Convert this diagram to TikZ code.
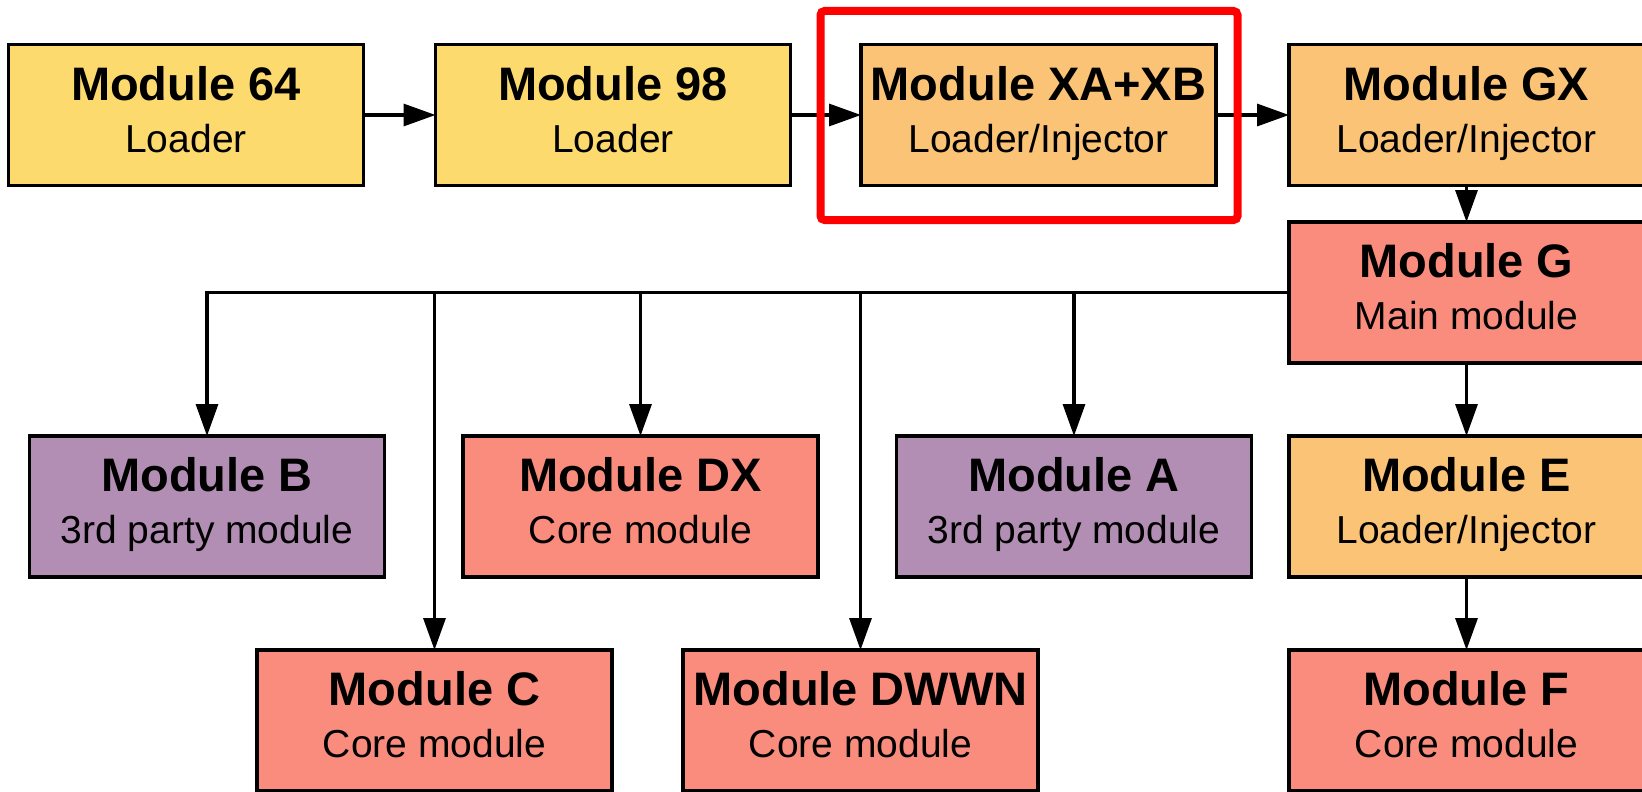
\documentclass[tikz,border=0pt]{standalone}
\usepackage{fontspec}
\setmainfont{Liberation Sans}
\usetikzlibrary{arrows.meta}
\definecolor{cYellow}{HTML}{FDDA6E}
\definecolor{cOrange}{HTML}{FBC375}
\definecolor{cSalmon}{HTML}{F98C7C}
\definecolor{cPurple}{HTML}{B38EB4}
\definecolor{cRed}{HTML}{FF0000}
\tikzset{
 modbox/.style={draw=black, line width=3.5pt, minimum width=355pt, minimum height=141pt, inner sep=0pt, outer sep=0pt},
 ttl/.style={anchor=base, font=\fontsize{47}{50}\selectfont\bfseries, inner sep=0pt},
 subt/.style={anchor=base, font=\fontsize{39}{44}\selectfont, inner sep=0pt},
 conn/.style={line width=3.3pt, line join=miter, -{Triangle[length=32pt,width=22pt]}},
 hilite/.style={draw=cRed, line width=8pt, rounded corners=4pt, minimum width=417pt, minimum height=209pt, inner sep=0pt, outer sep=0pt},
}
\newcommand\modnode[6]{%
 \node[modbox, fill=#4] (#1) at (#2,#3) {};
 \node[ttl] (#1-t) at ([yshift=15pt]#1.center) {#5};
 \node[subt] (#1-s) at ([yshift=-37pt]#1.center) {#6};
}
\begin{document}
\begin{tikzpicture}[x=1pt,y=-1pt]
\clip (0,0) rectangle (1642,792);
\fill[white] (0,0) rectangle (1642,792);
% row 1
\modnode{m64}{186}{115}{cYellow}{Module 64}{Loader}
\modnode{m98}{613}{115}{cYellow}{Module 98}{Loader}
\modnode{xab}{1038.5}{115}{cOrange}{Module XA+XB}{Loader/Injector}
\modnode{gx}{1466.5}{115}{cOrange}{Module GX}{Loader/Injector}
% G
\modnode{g}{1466.5}{292.5}{cSalmon}{Module G}{Main module}
% row 2
\modnode{b}{207}{506.5}{cPurple}{Module B}{3rd party module}
\modnode{dx}{640.5}{506.5}{cSalmon}{Module DX}{Core module}
\modnode{a}{1074}{506.5}{cPurple}{Module A}{3rd party module}
\modnode{e}{1466.5}{506.5}{cOrange}{Module E}{Loader/Injector}
% row 3
\modnode{c}{434.5}{720.5}{cSalmon}{Module C}{Core module}
\modnode{dw}{860.5}{720.5}{cSalmon}{Module DWWN}{Core module}
\modnode{f}{1466.5}{720.5}{cSalmon}{Module F}{Core module}
% connectors
\draw[conn] (m64) -- (m98);
\draw[conn] (m98) -- (xab);
\draw[conn] (xab) -- (gx);
\draw[conn] (gx) -- (g);
\draw[conn] (g) -- (e);
\draw[conn] (e) -- (f);
\draw[conn] (g.west) -- (b.north |- g.west) -- (b.north);
\draw[conn] (c.north |- g.west) -- (c.north);
\draw[conn] (dx.north |- g.west) -- (dx.north);
\draw[conn] (dw.north |- g.west) -- (dw.north);
\draw[conn] (a.north |- g.west) -- (a.north);
% highlight
\node[hilite] (hl) at (1029,115.5) {};
\end{tikzpicture}
\end{document}
